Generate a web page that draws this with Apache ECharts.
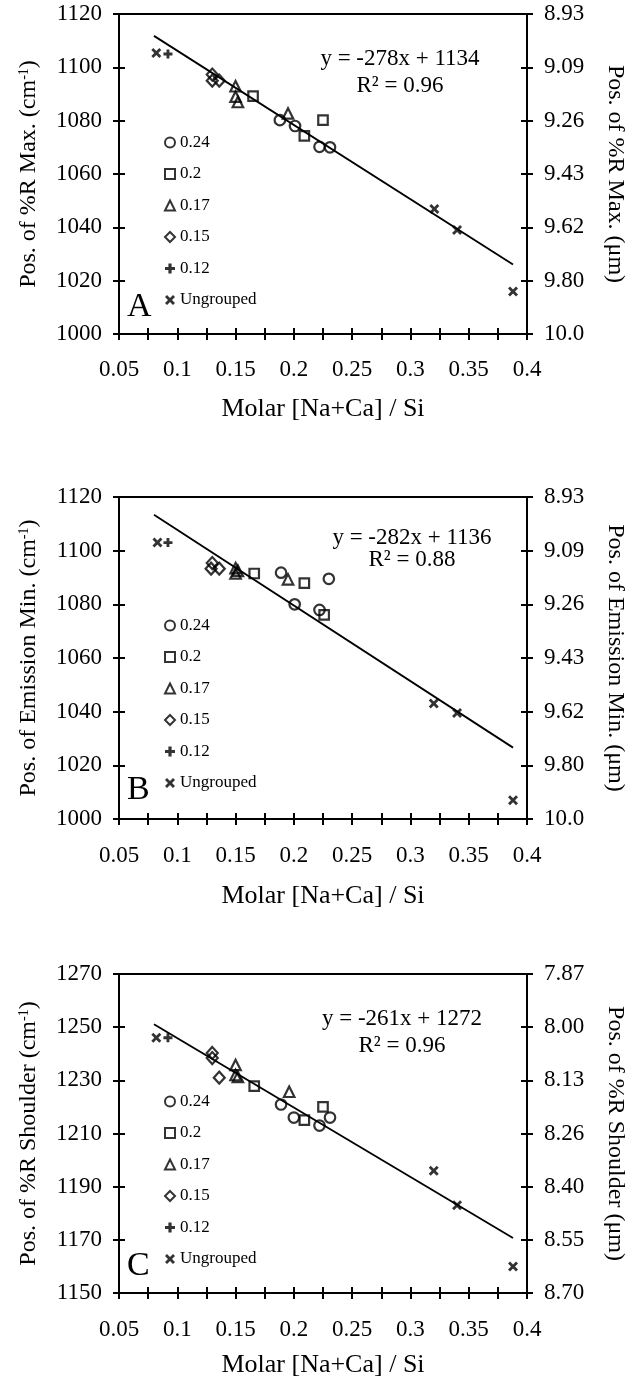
<!DOCTYPE html>
<html><head><meta charset="utf-8">
<script src="https://cdn.jsdelivr.net/npm/echarts@6/dist/echarts.min.js"></script>
<style>html,body{margin:0;padding:0;background:#fff}#c{width:634px;height:1381px}</style>
</head><body><div id="c"></div>
<script>
// ---------- DATA ----------
const xTickLabels = ['0.05','0.1','0.15','0.2','0.25','0.3','0.35','0.4'];
const xMin = 0.05, xMax = 0.4, xStep = 0.05;
const groupNames = ['0.24','0.2','0.17','0.15','0.12','Ungrouped'];

// Panel A
const aLeftLabels  = ['1000','1020','1040','1060','1080','1100','1120'];
const aRightLabels = ['10.0','9.80','9.62','9.43','9.26','9.09','8.93'];
const aG024 = [[0.188,1080.2],[0.201,1078],[0.222,1070.2],[0.231,1070]];
const aG020 = [[0.165,1089.2],[0.209,1074.3],[0.225,1080.2]];
const aG017 = [[0.150,1092.9],[0.150,1089],[0.152,1087],[0.195,1082.7]];
const aG015 = [[0.130,1097.3],[0.130,1095],[0.136,1095]];
const aG012 = [[0.092,1105]];
const aUngrouped = [[0.082,1105.4],[0.3205,1046.9],[0.340,1039],[0.388,1015.9]];
const aFit = [[0.080,1111.8],[0.388,1026.1]];
const aEq = ['y = -278x + 1134','R² = 0.96'];

// Panel B
const bLeftLabels  = ['1000','1020','1040','1060','1080','1100','1120'];
const bRightLabels = ['10.0','9.80','9.62','9.43','9.26','9.09','8.93'];
const bG024 = [[0.189,1091.8],[0.2007,1080],[0.222,1077.9],[0.230,1089.5]];
const bG020 = [[0.166,1091.5],[0.209,1087.9],[0.226,1076.1]];
const bG017 = [[0.150,1093.5],[0.150,1091.5],[0.152,1092.5],[0.195,1089.3]];
const bG015 = [[0.130,1095.4],[0.129,1093.3],[0.136,1093.3]];
const bG012 = [[0.092,1103]];
const bUngrouped = [[0.083,1103],[0.320,1043],[0.340,1039.5],[0.388,1007]];
const bFit = [[0.080,1113.4],[0.388,1026.6]];
const bEq = ['y = -282x + 1136','R² = 0.88'];

// Panel C
const cLeftLabels  = ['1150','1170','1190','1210','1230','1250','1270'];
const cRightLabels = ['8.70','8.55','8.40','8.26','8.13','8.00','7.87'];
const cG024 = [[0.189,1220.9],[0.200,1216],[0.222,1213],[0.231,1216]];
const cG020 = [[0.166,1227.8],[0.209,1215],[0.225,1220]];
const cG017 = [[0.150,1235.8],[0.150,1232],[0.152,1231.3],[0.196,1225.7]];
const cG015 = [[0.130,1240.3],[0.130,1238.4],[0.136,1231]];
const cG012 = [[0.092,1246]];
const cUngrouped = [[0.082,1246],[0.320,1196],[0.340,1183],[0.388,1160]];
const cFit = [[0.080,1251.1],[0.388,1170.7]];
const cEq = ['y = -261x + 1272','R² = 0.96'];

const panels = [
  {letter:'A', base:1000, yStep:20, left:aLeftLabels, right:aRightLabels,
   groups:[aG024,aG020,aG017,aG015,aG012,aUngrouped], fit:aFit, eq:aEq,
   leftName:'Pos. of %R Max. (cm{sup|-1})', rightName:'Pos. of %R Max. (μm)'},
  {letter:'B', base:1000, yStep:20, left:bLeftLabels, right:bRightLabels,
   groups:[bG024,bG020,bG017,bG015,bG012,bUngrouped], fit:bFit, eq:bEq,
   leftName:'Pos. of Emission Min. (cm{sup|-1})', rightName:'Pos. of Emission Min. (μm)'},
  {letter:'C', base:1150, yStep:20, left:cLeftLabels, right:cRightLabels,
   groups:[cG024,cG020,cG017,cG015,cG012,cUngrouped], fit:cFit, eq:cEq,
   leftName:'Pos. of %R Shoulder (cm{sup|-1})', rightName:'Pos. of %R Shoulder (μm)'}
];

// ---------- LAYOUT / STYLE ----------
const FONT = '"Liberation Serif", "Times New Roman", serif';
const layout = [
  {top:14,  height:320, eqX:400, eqY:59,  eqGap:27, letterY:290, legendTop:134, lblMargin:24, nameGap:62},
  {top:497, height:322, eqX:412, eqY:538, eqGap:22, letterY:773, legendTop:617, lblMargin:25, nameGap:64},
  {top:974, height:319, eqX:402, eqY:1019,eqGap:27, letterY:1249,legendTop:1093, lblMargin:25, nameGap:59}
];
const GL = 119, GW = 408;
const PLUS = 'path://M3.4,0H6.6V3.4H10V6.6H6.6V10H3.4V6.6H0V3.4H3.4Z';
const CROSS = 'path://M0,2L2,0L5,3L8,0L10,2L7,5L10,8L8,10L5,7L2,10L0,8L3,5Z';
const symbols = [
  {symbol:'circle', size:10.5, open:true},
  {symbol:'rect', size:9.5, open:true},
  {symbol:'triangle', size:10.5, open:true},
  {symbol:'diamond', size:[11,12], open:true},
  {symbol:PLUS, size:9, open:false},
  {symbol:CROSS, size:10, open:false}
];
const tickStyle = {color:'#000', width:2};

const grid = [], xAxis = [], yAxis = [], series = [], legend = [], graphic = [];

panels.forEach((p, k) => {
  const L = layout[k];
  const yMax = p.yStep * (p.left.length - 1);
  const gBase = {left:GL, width:GW, top:L.top, height:L.height, containLabel:false, outerBoundsMode:'none'};
  grid.push(Object.assign({}, gBase, {show:true, borderColor:'#000', borderWidth:2, backgroundColor:'transparent'}));
  grid.push(Object.assign({}, gBase, {show:false}));
  const gMain = 2*k, gOver = 2*k+1;
  const xFmt = v => xTickLabels[Math.round((v - xMin)/xStep)] || '';
  xAxis.push({gridIndex:gMain, type:'value', min:xMin, max:xMax, interval:xStep,
    axisLine:{lineStyle:{color:'#000', width:2}},
    axisTick:{show:true, inside:false, length:6, lineStyle:tickStyle},
    minorTick:{show:true, splitNumber:2, length:6, lineStyle:tickStyle},
    splitLine:{show:false},
    axisLabel:{formatter:xFmt, fontFamily:FONT, fontSize:23, color:'#000', margin:L.lblMargin},
    name:'Molar [Na+Ca] / Si', nameLocation:'middle', nameGap:L.nameGap,
    nameTextStyle:{fontFamily:FONT, fontSize:26, color:'#000'}});
  xAxis.push({gridIndex:gOver, type:'value', min:xMin, max:xMax, interval:xStep,
    axisLine:{show:false},
    axisTick:{show:true, inside:true, length:6, lineStyle:tickStyle},
    minorTick:{show:true, splitNumber:2, length:6, lineStyle:tickStyle},
    splitLine:{show:false}, axisLabel:{show:false}});
  const lFmt = v => p.left[Math.round(v/p.yStep)] || '';
  const rFmt = v => p.right[Math.round(v/p.yStep)] || '';
  const yBase = {type:'value', min:0, max:yMax, interval:p.yStep, splitLine:{show:false}};
  yAxis.push(Object.assign({}, yBase, {gridIndex:gMain, position:'left',
    axisLine:{show:true, lineStyle:{color:'#000', width:2}},
    axisTick:{show:true, inside:false, length:6, lineStyle:tickStyle},
    axisLabel:{formatter:lFmt, fontFamily:FONT, fontSize:23, color:'#000', margin:17},
    name:p.leftName, nameLocation:'middle', nameRotate:90, nameGap:78,
    nameTextStyle:{fontFamily:FONT, fontSize:24, color:'#000',
      rich:{sup:{fontFamily:FONT, fontSize:14, color:'#000', verticalAlign:'top'}}}}));
  yAxis.push(Object.assign({}, yBase, {gridIndex:gMain, position:'right',
    axisLine:{show:true, lineStyle:{color:'#000', width:2}},
    axisTick:{show:true, inside:false, length:6, lineStyle:tickStyle},
    axisLabel:{formatter:rFmt, fontFamily:FONT, fontSize:23, color:'#000', margin:17},
    name:p.rightName, nameLocation:'middle', nameRotate:-90, nameGap:76,
    nameTextStyle:{fontFamily:FONT, fontSize:24, color:'#000'}}));
  yAxis.push(Object.assign({}, yBase, {gridIndex:gOver, position:'left',
    axisLine:{show:false}, axisTick:{show:true, inside:true, length:6, lineStyle:tickStyle},
    axisLabel:{show:false}}));
  yAxis.push(Object.assign({}, yBase, {gridIndex:gOver, position:'right',
    axisLine:{show:false}, axisTick:{show:true, inside:true, length:6, lineStyle:tickStyle},
    axisLabel:{show:false}}));

  series.push({type:'line', xAxisIndex:gMain, yAxisIndex:4*k, showSymbol:false, silent:true,
    data:p.fit.map(d => [d[0], d[1]-p.base]), lineStyle:{color:'#000', width:1.8}, z:1});
  p.groups.forEach((g, j) => {
    const s = symbols[j];
    series.push({type:'scatter', name:groupNames[j], xAxisIndex:gMain, yAxisIndex:4*k,
      symbol:s.symbol, symbolSize:s.size,
      itemStyle: s.open ? {color:'rgba(255,255,255,0)', borderColor:'#000', borderWidth:2.2}
                        : {color:'#000', borderWidth:0},
      data:g.map(d => [d[0], d[1]-p.base]), z:3});
  });
  legend.push({data:groupNames, orient:'vertical', left:164, top:L.legendTop, padding:0,
    itemWidth:10, itemHeight:10, itemGap:14.5, selectedMode:false,
    textStyle:{fontFamily:FONT, fontSize:17, color:'#000'}});
  graphic.push({type:'text', x:127, y:L.letterY, style:{text:p.letter, font:'34px ' + FONT, fill:'#000'}});
  graphic.push({type:'text', x:L.eqX, y:L.eqY, style:{text:p.eq[0], font:'23px ' + FONT, fill:'#000', align:'center', verticalAlign:'middle'}});
  graphic.push({type:'text', x:L.eqX, y:L.eqY + L.eqGap, style:{text:p.eq[1], font:'23px ' + FONT, fill:'#000', align:'center', verticalAlign:'middle'}});
});

const chart = echarts.init(document.getElementById('c'), null, {renderer:'canvas'});
chart.setOption({animation:false, backgroundColor:'#fff', grid, xAxis, yAxis, series, legend, graphic});
</script></body></html>
